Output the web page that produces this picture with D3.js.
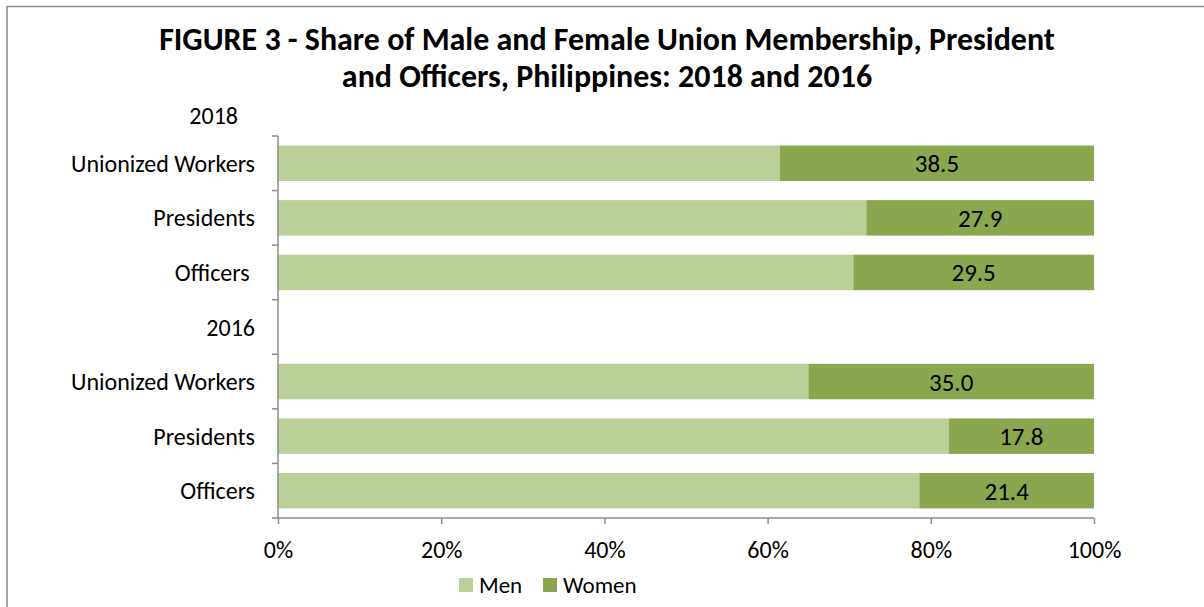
<!DOCTYPE html>
<html><head><meta charset="utf-8">
<script src="https://cdn.jsdelivr.net/npm/d3@7"></script>
<style>
html,body{margin:0;padding:0;background:#fff;}
svg{display:block;font-family:Carlito,Calibri,Lato,"Open Sans",sans-serif;}
</style></head>
<body><svg id="c" width="1204" height="607"></svg>
<script>
// ---- data ----
const categories = ["Unionized Workers","Presidents","Officers ","2016","Unionized Workers ","Presidents ","Officers"];
const catLabels = ["Unionized Workers","Presidents","Officers ","2016","Unionized Workers","Presidents","Officers"];
const women = [38.5, 27.9, 29.5, null, 35.0, 17.8, 21.4];
const men = [61.5, 72.1, 70.5, null, 65.0, 82.2, 78.6];
const womenLabels = ["38.5","27.9","29.5","","35.0","17.8","21.4"];
const xTicks = [0,20,40,60,80,100];
const seriesNames = ["Men","Women"];
const colors = {Men:"#bbcf98", Women:"#8aa64f"};
const titleLines = ["FIGURE 3 - Share of Male and Female Union Membership, President","and Officers, Philippines: 2018 and 2016"];
const headerLabel = "2018";

const svg = d3.select("#c");
// border (top & left visible)
svg.append("rect").attr("x",7).attr("y",6.5).attr("width",1300).attr("height",700)
  .attr("fill","none").attr("stroke","#8c8c8c").attr("stroke-width",1.5);

const x = d3.scaleLinear().domain([0,100]).range([278,1094]);
const y = d3.scaleBand().domain(categories).range([136,518]).paddingInner(0.35).paddingOuter(0.175);

// title
const tt = svg.append("text").attr("text-anchor","middle").attr("font-weight","bold").attr("fill","#000");
tt.append("tspan").attr("x",607).attr("y",50).text(titleLines[0]);
tt.append("tspan").attr("x",607).attr("y",87).text(titleLines[1]);
// fit title width
let fs = 28; tt.attr("font-size",fs);
const w0 = tt.select("tspan").node().getComputedTextLength();
tt.attr("font-size", fs*896/w0);

// bars
const rows = categories.map((c,i)=>({c, men:men[i], women:women[i], lab:womenLabels[i]})).filter(d=>d.men!=null);
const g = svg.append("g");
g.selectAll("rect.men").data(rows).join("rect").attr("class","men")
  .attr("x",x(0)).attr("y",d=>y(d.c)).attr("width",d=>x(d.men)-x(0)).attr("height",y.bandwidth())
  .attr("fill",colors.Men);
g.selectAll("rect.women").data(rows).join("rect").attr("class","women")
  .attr("x",d=>x(d.men)).attr("y",d=>y(d.c)).attr("width",d=>x(100)-x(d.men)).attr("height",y.bandwidth())
  .attr("fill",colors.Women);
g.selectAll("text.lab").data(rows).join("text").attr("class","lab")
  .attr("x",d=>(x(d.men)+x(100))/2).attr("y",d=>y(d.c)+y.bandwidth()/2).attr("dy","0.36em")
  .attr("text-anchor","middle").attr("font-size",25).attr("fill","#000").text(d=>d.lab);

// y axis
const yAxisStep = (518-136)/categories.length;
const yAx = svg.append("g");
yAx.append("line").attr("x1",278).attr("x2",278).attr("y1",136).attr("y2",518).attr("stroke","#8c8c8c").attr("stroke-width",1.5);
d3.range(categories.length+1).forEach(i=>{
  yAx.append("line").attr("x1",272).attr("x2",278).attr("y1",136+i*yAxisStep).attr("y2",136+i*yAxisStep)
    .attr("stroke","#8c8c8c").attr("stroke-width",1.5);
});
yAx.selectAll("text").data(categories).join("text")
  .attr("x",255).attr("y",(d,i)=>136+(i+0.5)*yAxisStep).attr("dy","0.36em")
  .attr("text-anchor","end").attr("font-size",24).attr("fill","#000")
  .attr("xml:space","preserve").style("white-space","pre")
  .text((d,i)=>catLabels[i]);
svg.append("text").attr("x",238).attr("y",115).attr("dy","0.36em").attr("text-anchor","end")
  .attr("font-size",24).attr("fill","#000").text(headerLabel);

// x axis
const xAx = svg.append("g").attr("transform","translate(0,518)")
  .call(d3.axisBottom(x).tickValues(xTicks).tickFormat(d=>d+"%").tickSize(6).tickSizeOuter(0));
xAx.select(".domain").attr("stroke","#8c8c8c").attr("stroke-width",1.5);
xAx.selectAll(".tick line").attr("stroke","#8c8c8c").attr("stroke-width",1.5);
xAx.selectAll(".tick text").attr("font-size",24).attr("fill","#000").attr("y",31).attr("dy","0.36em")
  .attr("font-family","Carlito,Calibri,Lato,sans-serif");
xAx.select(".domain").attr("d","M278,0H1094");

// legend
const leg = svg.append("g");
const legX = [459,543];
seriesNames.forEach((s,i)=>{
  leg.append("rect").attr("x",legX[i]).attr("y",578).attr("width",14).attr("height",14).attr("fill",colors[s]);
  leg.append("text").attr("x",legX[i]+20).attr("y",585).attr("dy","0.36em").attr("font-size",23).attr("fill","#000").text(s);
});
</script></body></html>
